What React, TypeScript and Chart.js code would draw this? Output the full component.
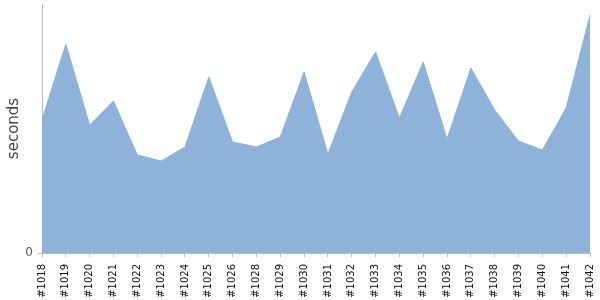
import React, { useEffect, useRef } from "react";
import { Chart, registerables } from "chart.js";

Chart.register(...registerables);

const buildLabels = [
  "#1018", "#1019", "#1020", "#1021", "#1022", "#1023", "#1024", "#1025",
  "#1026", "#1028", "#1029", "#1030", "#1031", "#1032", "#1033", "#1034",
  "#1035", "#1036", "#1037", "#1038", "#1039", "#1040", "#1041", "#1042",
];

const seconds = [
  133, 209, 128, 152, 98, 92, 106, 176, 111, 106, 116, 181,
  99, 161, 201, 135, 191, 114, 185, 143, 112, 103, 145, 238,
];

const yTickValues = [0];
const yMax = 249;

export default function App() {
  const ref = useRef<HTMLCanvasElement | null>(null);

  useEffect(() => {
    if (!ref.current) return;
    const chart = new Chart(ref.current, {
      type: "line",
      data: {
        labels: buildLabels,
        datasets: [
          {
            label: "seconds",
            data: seconds,
            fill: "origin",
            backgroundColor: "rgb(143,178,218)",
            borderColor: "rgb(143,178,218)",
            borderWidth: 1,
            pointRadius: 0,
            tension: 0,
          },
        ],
      },
      options: {
        animation: false,
        responsive: false,
        layout: { padding: { top: 4, right: 10, left: 0, bottom: 0 } },
        plugins: {
          legend: { display: false },
          tooltip: { enabled: false },
        },
        scales: {
          x: {
            type: "category",
            offset: false,
            grid: {
              display: true,
              drawOnChartArea: false,
              tickLength: 4,
              color: "#bbbbbb",
            },
            border: { display: true, color: "#bbbbbb" },
            ticks: {
              autoSkip: false,
              minRotation: 90,
              maxRotation: 90,
              padding: 7,
              color: "#111111",
              font: { family: "DejaVu Sans", size: 10 },
            },
            afterFit: (scale: any) => {
              scale.height = 47;
              scale.paddingLeft = 0;
              scale.paddingRight = 0;
            },
          },
          y: {
            min: 0,
            max: yMax,
            grid: {
              display: true,
              drawOnChartArea: false,
              tickLength: 4,
              color: "#bbbbbb",
            },
            border: { display: true, color: "#bbbbbb" },
            ticks: {
              padding: 5,
              color: "#555555",
              font: { family: "DejaVu Sans", size: 12 },
            },
            afterBuildTicks: (scale: any) => {
              scale.ticks = yTickValues.map((v) => ({ value: v }));
            },
            afterFit: (scale: any) => {
              scale.width = 42;
              scale.paddingTop = 0;
              scale.paddingBottom = 0;
            },
            title: {
              display: true,
              text: "seconds",
              color: "#444444",
              font: { family: "DejaVu Sans", size: 15 },
              padding: { top: 5, bottom: 0 },
            },
          },
        },
      },
    });
    return () => chart.destroy();
  }, []);

  return (
    <div style={{ position: "absolute", left: 0, top: 0, width: 600, height: 300 }}>
      <canvas ref={ref} width={600} height={300} />
    </div>
  );
}
